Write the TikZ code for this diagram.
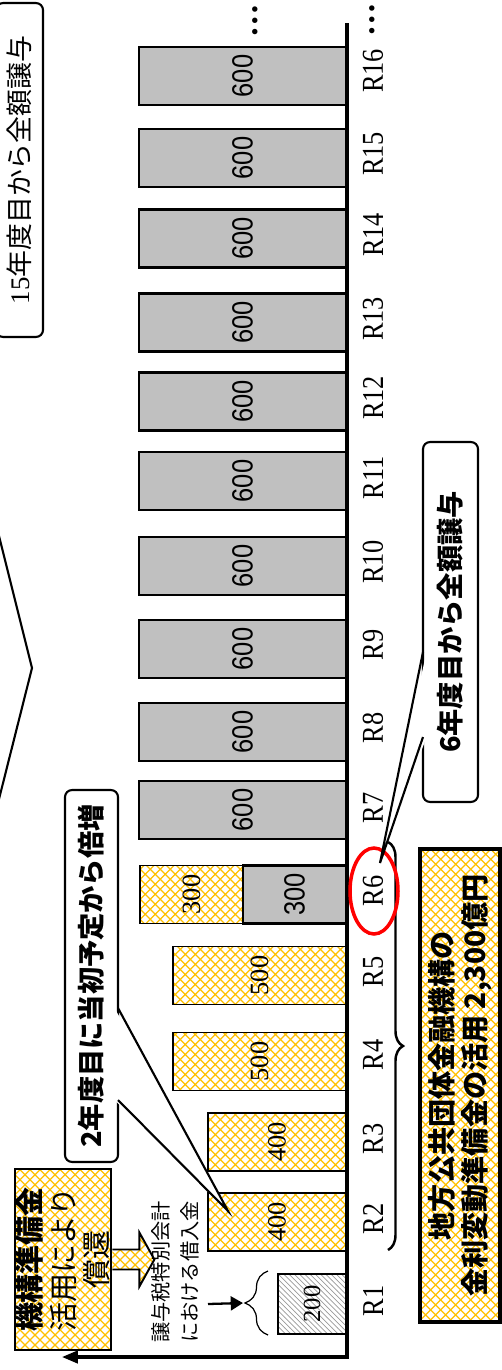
\documentclass[tikz,border=0pt]{standalone}
\usepackage{graphicx}
\usepackage{fontspec}
\setmainfont{Liberation Serif}
\newfontfamily\gothic{Noto Sans CJK JP}
\newfontfamily\arial{Liberation Sans}
\usetikzlibrary{positioning, arrows.meta, patterns, shapes.geometric, decorations.pathreplacing}

\definecolor{gold}{RGB}{255,192,0}
\definecolor{bargray}{RGB}{192,192,192}

% diamond lattice used for the yellow areas
\pgfdeclarepatternformonly{lattice}{\pgfqpoint{-1pt}{-1pt}}{\pgfqpoint{6.7pt}{6.7pt}}{\pgfqpoint{5.7pt}{5.7pt}}{%
  \pgfsetlinewidth{0.7pt}%
  \pgfpathmoveto{\pgfqpoint{0pt}{0pt}}\pgfpathlineto{\pgfqpoint{5.7pt}{5.7pt}}%
  \pgfpathmoveto{\pgfqpoint{0pt}{5.7pt}}\pgfpathlineto{\pgfqpoint{5.7pt}{0pt}}%
  \pgfusepath{stroke}}

\newcommand{\tall}[1]{\scalebox{1}[1.15]{#1}}

\begin{document}
\begin{tikzpicture}[
    x=0.02cm, y=-0.02cm,
    bar/.style={draw, rotate=90, inner sep=0pt, minimum width=1.16cm},
    graybar/.style={bar, fill=bargray, line width=1.6pt, font=\arial\fontsize{14.5}{14.5}\selectfont},
    goldbar/.style={bar, pattern=lattice, pattern color=gold, line width=1.1pt, font=\fontsize{15}{15}\selectfont},
    hatchbar/.style={bar, pattern=north west lines, pattern color=gray!80, line width=1.1pt, font=\fontsize{14}{14}\selectfont},
    yearlabel/.style={rotate=90, inner sep=0pt, font=\fontsize{15}{15}\selectfont},
    callout/.style={draw, fill=white, rounded corners=4pt, line width=1.2pt, rotate=90, inner sep=0pt},
    pointer/.style={line width=1.2pt},
    goldbox/.style={draw, pattern=lattice, pattern color=gold, rotate=90, inner sep=0pt, align=center}
]
\useasboundingbox (0,0) rectangle (502,1370);

% Full transfer bars
\foreach \r/\yc in {16/76,15/158,14/238.5,13/322.5,12/401.5,11/481,10/566,9/649,8/732,7/810}
    \node[graybar, minimum height=4.14cm] (b\r) at (242.5,\yc) {\tall{600}};

% Early years
\node[goldbar, minimum height=2.06cm] (b6a) at (191.5,894.5) {300};
\node[graybar, minimum height=2.06cm] (b6b) at (294.5,894.5) {\tall{300}};
\node[goldbar, minimum height=3.46cm] (b5) at (259.5,975.5) {500};
\node[goldbar, minimum height=3.46cm] (b4) at (259.5,1061.5) {500};
\node[goldbar, minimum height=2.76cm] (b3) at (277,1142) {400};
\node[goldbar, minimum height=2.76cm] (b2) at (277,1222) {400};
\node[hatchbar, minimum height=1.36cm, minimum width=1.2cm] (b1) at (312,1304) {200};

% Year labels
\foreach \r/\yc in {16/71,15/154,14/235,13/319,12/398,11/478,10/562,9/645,8/728,7/808,6/891,5/972,4/1055,3/1139,2/1219,1/1301}
    \node[yearlabel] (r\r) at (373,\yc) {\tall{R\r}};

% Axes
\coordinate (axtop) at (347,23);
\coordinate (origin) at (347,1357);
\coordinate (axend) at (62,1357);
\draw[line width=1.8pt, -{Triangle[length=9pt,width=7pt]}] (axtop) -- (origin) -- (axend);

\node[rotate=90, font=\bfseries\fontsize{19}{19}\selectfont] (more1) at (255,21) {…};
\node[rotate=90, font=\bfseries\fontsize{19}{19}\selectfont] (more2) at (372,20) {…};

% Brace over R2 to R6
\coordinate (brtop) at (388,842);
\coordinate (brbot) at (388,1250);
\draw[decorate, decoration={brace, amplitude=0.3cm}, line width=1.4pt] (brtop) -- (brbot);

\node[goldbox, line width=2pt, minimum width=9.46cm, minimum height=1.6cm,
      font=\gothic\bfseries\fontsize{16}{19}\selectfont] (fund) at (460,1085.5)
      {地方公共団体金融機構の\\金利変動準備金の活用 2,300億円};

% Ring around R6
\node[ellipse, draw=red, line width=2pt, minimum width=0.96cm, minimum height=1.72cm, inner sep=0pt] (ring) at (374,891) {};

% Callouts
\node[callout, minimum width=6.68cm, minimum height=0.94cm,
      font=\gothic\fontsize{15.3}{15.3}\selectfont] (c15) at (19.5,170) {{\rmfamily 15}年度目から全額譲与};
\coordinate (chA) at (-2,532);
\coordinate (chB) at (32,668);
\coordinate (chC) at (-2,803);
\draw[pointer] (chA) -- (chB) -- (chC);

\node[callout, minimum width=7.44cm, minimum height=1.06cm,
      font=\gothic\bfseries\fontsize{15.5}{15.5}\selectfont] (c2) at (91.5,976) {2年度目に当初予定から倍増};
\coordinate (c2a) at (118,1008);
\coordinate (c2b) at (118,1100);
\coordinate (c2tip) at (228,1211);
\fill[white] ([xshift=-2pt]c2a) -- (c2tip) -- ([xshift=-2pt]c2b) -- cycle;
\draw[pointer] (c2a) -- (c2tip) -- (c2b);

\node[callout, minimum width=7.2cm, minimum height=1.1cm,
      font=\gothic\bfseries\fontsize{15.5}{15.5}\selectfont] (c6) at (450.5,622) {6年度目から全額譲与};
\coordinate (c6a) at (423,652);
\coordinate (c6b) at (423,737);
\coordinate (c6tip) at (380,863);
\fill[white] ([xshift=2pt]c6a) -- (c6tip) -- ([xshift=2pt]c6b) -- cycle;
\draw[pointer] (c6a) -- (c6tip) -- (c6b);

% Repayment from reserve
\node[goldbox, line width=1.6pt, minimum width=3.62cm, minimum height=1.92cm,
      font=\gothic\fontsize{16.5}{19}\selectfont] (repay) at (63,1259.5)
      {{\bfseries 機構準備金}\\活用により\\償還};
\draw[line width=1.1pt, pattern=lattice, pattern color=gold]
    (repay.south) ++(0,-10) -- ++(27,0) -- ++(0,-17) -- ++(15,27) -- ++(-15,27) -- ++(0,-17) -- ++(-27,0);

% Borrowing of the special account
\node[rotate=90, align=center, font=\gothic\fontsize{11.5}{16.5}\selectfont] (loan) at (175.5,1272)
      {譲与税特別会計\\における借入金};
\coordinate (br1a) at (268,1335);
\coordinate (br1b) at (268,1271);
\coordinate (br1tip) at (243,1303);
\draw[decorate, decoration={brace, amplitude=0.46cm}, line width=0.7pt] (br1a) -- (br1b);
\coordinate (loanarr) at (208,1304);
\draw[line width=1.3pt, -{Triangle[length=7pt,width=8pt]}] (loanarr) -- (br1tip);

\end{tikzpicture}
\end{document}
